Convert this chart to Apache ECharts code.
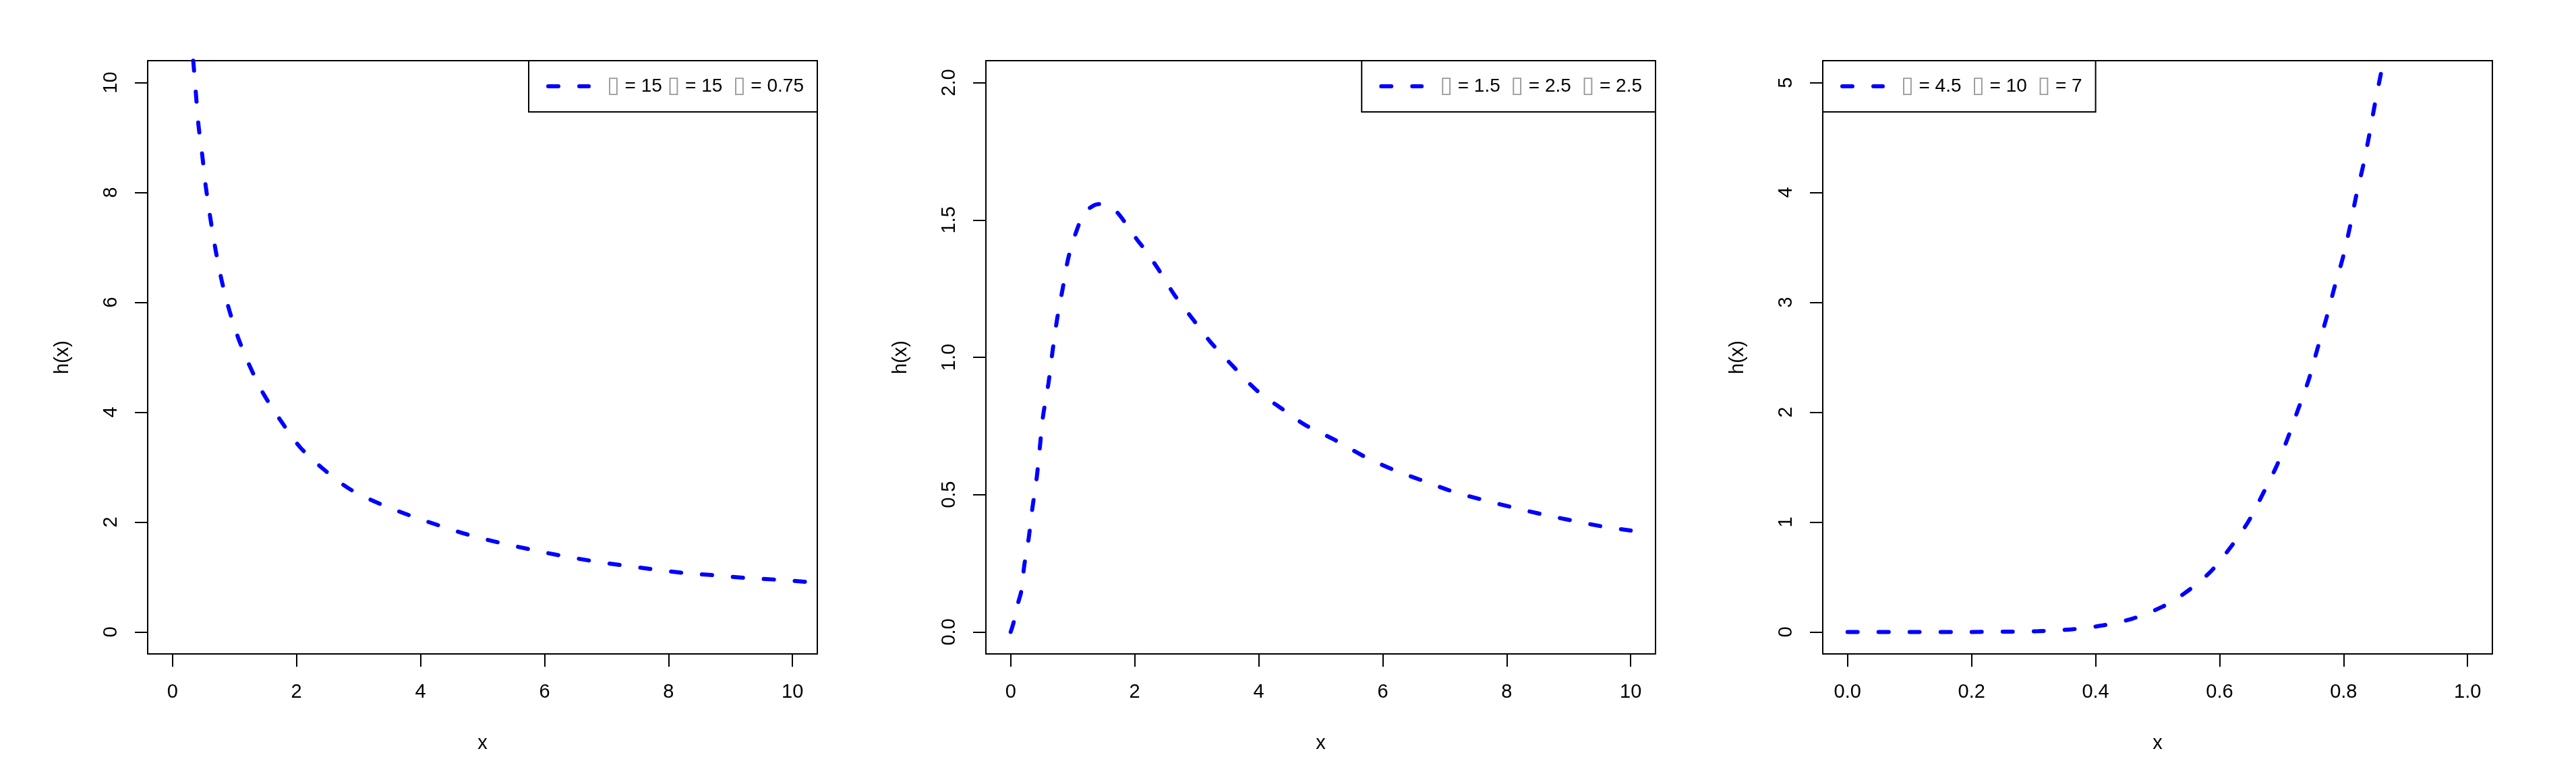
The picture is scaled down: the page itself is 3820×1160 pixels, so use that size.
<!DOCTYPE html>
<html>
<head>
<meta charset="utf-8">
<title>h(x)</title>
<script src="https://cdn.jsdelivr.net/npm/echarts@6/dist/echarts.min.js"></script>
<style>
  html, body { margin: 0; padding: 0; background: #fff; }
  #main { width: 3820px; height: 1160px; }
</style>
</head>
<body>
<div id="main"></div>
<script>
// values
var p1X = [0.335, 0.377, 0.419, 0.481, 0.536, 0.606, 0.696, 0.793, 0.918, 1.058, 1.23, 1.47, 1.75, 2.06, 2.45, 2.86, 3.35, 3.83, 4.32, 4.80, 5.29, 5.78, 6.26, 6.78, 7.27, 7.76, 8.27, 8.76, 9.28, 9.77, 10.25, 10.4];
var p1Y = [10.4, 9.81, 9.23, 8.67, 8.12, 7.57, 6.95, 6.40, 5.85, 5.36, 4.88, 4.33, 3.84, 3.36, 2.95, 2.60, 2.33, 2.12, 1.93, 1.76, 1.62, 1.50, 1.39, 1.29, 1.21, 1.14, 1.07, 1.03, 0.98, 0.95, 0.91, 0.90];

var p2X = [0, 0.05, 0.12, 0.17, 0.22, 0.29, 0.35, 0.42, 0.47, 0.52, 0.61, 0.68, 0.75, 0.84, 0.93, 1.06, 1.20, 1.42, 1.68, 1.86, 2.03, 2.17, 2.38, 2.65, 2.93, 3.21, 3.55, 3.97, 4.39, 4.74, 5.22, 5.71, 6.19, 6.68, 7.16, 7.65, 8.14, 8.62, 9.11, 9.52, 10];
var p2Y = [0, 0.037, 0.106, 0.148, 0.244, 0.341, 0.451, 0.562, 0.672, 0.783, 0.907, 1.031, 1.141, 1.252, 1.362, 1.459, 1.528, 1.558, 1.535, 1.486, 1.431, 1.390, 1.321, 1.224, 1.141, 1.059, 0.976, 0.879, 0.810, 0.755, 0.700, 0.638, 0.589, 0.548, 0.509, 0.479, 0.451, 0.426, 0.403, 0.385, 0.369];

var p3X = [0, 0.10, 0.20, 0.251, 0.307, 0.362, 0.411, 0.459, 0.508, 0.543, 0.584, 0.619, 0.647, 0.671, 0.692, 0.709, 0.727, 0.744, 0.758, 0.772, 0.785, 0.799, 0.810, 0.820, 0.831, 0.841, 0.851, 0.862, 0.865];
var p3Y = [0, 0, 0, 0.002, 0.007, 0.024, 0.059, 0.12, 0.23, 0.35, 0.54, 0.78, 1.01, 1.27, 1.51, 1.75, 2.03, 2.30, 2.58, 2.85, 3.13, 3.41, 3.68, 3.96, 4.23, 4.51, 4.82, 5.13, 5.2];

var ticks10 = [0, 2, 4, 6, 8, 10];
var ticks2 = [0, 0.5, 1, 1.5, 2];
var ticks5 = [0, 1, 2, 3, 4, 5];
var ticks1 = [0, 0.2, 0.4, 0.6, 0.8, 1];

var names = [
  '▯ = 15 ▯ = 15  ▯ = 0.75',
  '▯ = 1.5  ▯ = 2.5  ▯ = 2.5',
  '▯ = 4.5  ▯ = 10  ▯ = 7'
];

function zip(xs, ys) {
  return xs.map(function (x, i) { return [x, ys[i]]; });
}

var FONT = '"Liberation Sans", Arial, sans-serif';
var FS = 29;
var BLUE = '#0000ff';
var DASH = { color: BLUE, width: 6, type: [15, 31], cap: 'round' };
var lefts = [219, 1462, 2703];

function xAx(idx, min, max, ticks, dec) {
  return {
    type: 'value', gridIndex: idx, min: min, max: max,
    name: 'x', nameLocation: 'middle', nameGap: 118,
    nameTextStyle: { fontSize: FS, color: '#000', fontFamily: FONT },
    axisLine: { show: false, onZero: false },
    splitLine: { show: false },
    axisTick: { show: true, customValues: ticks, length: 19, lineStyle: { color: '#000', width: 2 } },
    axisLabel: {
      customValues: ticks, margin: 42, fontSize: FS, color: '#000', fontFamily: FONT,
      formatter: function (v) { return v.toFixed(dec); }
    }
  };
}

function yAx(idx, min, max, ticks, dec) {
  return {
    type: 'value', gridIndex: idx, min: min, max: max,
    name: 'h(x)', nameLocation: 'middle', nameGap: 112, nameRotate: 90,
    nameTextStyle: { fontSize: FS, color: '#000', fontFamily: FONT },
    axisLine: { show: false, onZero: false },
    splitLine: { show: false },
    axisTick: { show: true, customValues: ticks, length: 19, lineStyle: { color: '#000', width: 2 } },
    axisLabel: {
      customValues: ticks, margin: 40, rotate: 90, fontSize: FS, color: '#000', fontFamily: FONT,
      formatter: function (v) { return v.toFixed(dec); }
    }
  };
}

function legendFor(name, pos) {
  var l = {
    data: [name],
    top: 90,
    orient: 'horizontal',
    backgroundColor: '#fff',
    borderColor: '#000',
    borderWidth: 2,
    borderRadius: 0,
    padding: [21, 20, 21, 26],
    itemWidth: 60,
    itemHeight: 28,
    selectedMode: false,
    lineStyle: DASH,
    itemStyle: { color: 'rgba(0,0,0,0)', borderWidth: 0 },
    textStyle: {
      fontSize: 28, lineHeight: 28, color: '#000', fontFamily: FONT, padding: [0, 0, 0, 22],
      rich: { t: { fontSize: 34, lineHeight: 28, color: '#9a9a9a', fontFamily: '"DejaVu Sans"' } }
    },
    formatter: function (n) { return n.replace(/▯/g, '{t|▯}'); }
  };
  return Object.assign(l, pos);
}

function lineSeries(idx, name, data) {
  return {
    type: 'line', name: name, xAxisIndex: idx, yAxisIndex: idx,
    data: data, showSymbol: false, symbol: 'none', smooth: 0.3,
    clip: true, animation: false,
    lineStyle: DASH,
    itemStyle: { color: BLUE }
  };
}

var chart = echarts.init(document.getElementById('main'));
chart.setOption({
  backgroundColor: '#fff',
  animation: false,
  grid: lefts.map(function (l) {
    return { left: l, width: 993, top: 90, height: 880, show: true, borderColor: '#000', borderWidth: 2, backgroundColor: 'transparent' };
  }),
  xAxis: [
    xAx(0, -0.4, 10.4, ticks10, 0),
    xAx(1, -0.4, 10.4, ticks10, 0),
    xAx(2, -0.04, 1.04, ticks1, 1)
  ],
  yAxis: [
    yAx(0, -0.4, 10.4, ticks10, 0),
    yAx(1, -0.08, 2.08, ticks2, 1),
    yAx(2, -0.2, 5.2, ticks5, 0)
  ],
  legend: [
    legendFor(names[0], { right: 3820 - 1212 }),
    legendFor(names[1], { right: 3820 - 2455 }),
    legendFor(names[2], { left: 2703 })
  ],
  series: [
    lineSeries(0, names[0], zip(p1X, p1Y)),
    lineSeries(1, names[1], zip(p2X, p2Y)),
    lineSeries(2, names[2], zip(p3X, p3Y))
  ]
});
</script>
</body>
</html>
